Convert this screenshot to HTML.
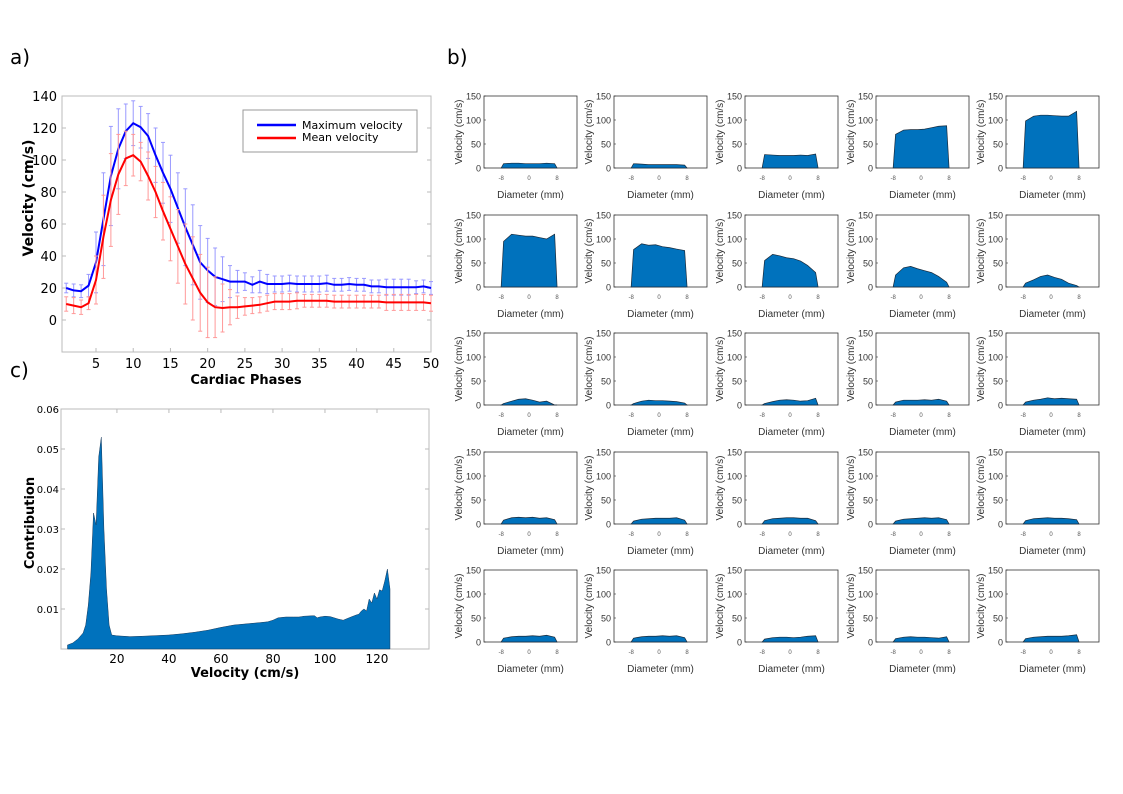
<!DOCTYPE html>
<html><head><meta charset="utf-8"><style>
body{margin:0;background:#fff;}
svg{display:block;}
text{font-family:"DejaVu Sans",sans-serif;}
.b text{font-family:"Liberation Sans",sans-serif;}
</style></head><body>
<svg id="s" width="1123" height="794" xmlns="http://www.w3.org/2000/svg">
<rect width="1123" height="794" fill="#fff"/>
<text x="10" y="64" font-size="20">a)</text>
<text x="447" y="64" font-size="20">b)</text>
<text x="10" y="377" font-size="20">c)</text>
<g id="ga"></g>
<g id="gc"></g>
<g id="gb" class="b"></g>
</svg>
<script>
// ---- Panel a data ----
const phases=[];for(let i=1;i<=50;i++)phases.push(i);
const maxVel=[20,18.5,18,21.5,36,63,90,107,118,123,120.5,115,103,92,82,70,58,47,36,31,27,25.5,24,24,24,22,24,22.5,22.5,22.5,23,22.5,22.5,22.5,22.5,23,22,22,22.5,22,22,21,21,20.5,20.5,20.5,20.5,20.5,21,20];
const maxErr=[3,4,4,7,19,29,31,25,17,14,13,14,17,19,21,22,24,25,23,20,18,14,10,7,5.5,5,7,6,5,5,5,5,5,5,5,5,4,4,4,4,4,4,4,5,5,5,5,4,4,4];
const meanVel=[10,9,8,10.5,25,52,75,91,101,103,99,90,80,68,57,46,35,26,17,11,8,7.5,8,8,8.5,9,9.5,10.5,11.5,11.5,11.5,12,12,12,12,12,11.5,11.5,11.5,11.5,11.5,11.5,11.5,11,11,11,11,11,11,10.5];
const meanErr=[4.5,5,4.5,4,15,26,29,25,17,13,12,15,16,18,20,23,25,26,24,22,19,15,11,7,5.5,5,5,5,5,5,5,5,4,4,4,4,4,4,4,4,4,4,4,5,5,5,5,5,5,5];
const aYTicks=[0,20,40,60,80,100,120,140];
const aXTicks=[5,10,15,20,25,30,35,40,45,50];
// ---- Panel c data ----
const cVel=[1,3,5,7,8,9,10,11,12,13,14,15,16,17,18,20,25,30,40,45,50,55,60,65,70,75,78,80,82,85,88,90,92,95,96,97,98,100,102,105,107,110,112,113,114,115,116,117,118,119,120,121,122,123,124,125];
const cVal=[.001,.0015,.0025,.004,.006,.011,.019,.034,.031,.048,.053,.03,.015,.006,.0035,.0033,.0031,.0032,.0035,.0038,.0042,.0047,.0054,.006,.0063,.0066,.0068,.0072,.0078,.008,.008,.008,.0082,.0083,.0083,.0078,.008,.0082,.0081,.0075,.0072,.008,.0085,.0087,.0095,.01,.0095,.0125,.0115,.014,.0125,.0148,.0145,.017,.02,.015];
const cYTicks=[0.01,0.02,0.03,0.04,0.05,0.06];
const cXTicks=[20,40,60,80,100,120];
// ---- Panel b data ----
const bPos=[-8,-7.3,-5,-3,-1,1,3,5,7.3,8];
const bProfiles=[
[0,9,10,10,9,9,9,10,9,0],[0,9,8,7,7,7,7,7,6,0],[0,28,27,26,26,26,27,26,29,0],[0,70,79,80,80,81,84,87,88,0],[0,98,108,110,110,109,108,108,118,0],
[0,95,110,108,106,106,103,100,110,0],[0,78,90,87,88,84,82,79,76,0],[0,55,68,65,61,59,54,45,30,0],[0,25,40,43,38,34,30,22,10,0],[0,8,15,22,25,20,16,8,3,0],
[0,3,8,12,13,10,6,8,0,0],[0,3,8,10,9,9,8,7,4,0],[0,3,7,10,11,10,8,9,14,0],[0,6,10,10,10,11,10,12,8,0],[0,6,10,12,15,13,14,13,12,0],
[0,8,13,14,13,14,12,13,9,0],[0,6,10,11,12,12,12,13,8,0],[0,7,11,12,13,13,12,12,7,0],[0,6,10,11,12,13,12,13,9,0],[0,7,11,12,13,12,12,11,9,0],
[0,8,11,12,12,13,12,14,10,0],[0,8,11,12,12,13,12,13,9,0],[0,6,9,10,10,9,10,12,13,0],[0,7,10,11,10,10,9,8,11,0],[0,7,10,11,12,12,12,13,15,0]];
const bYTicks=[0,50,100,150];
const bXTicks=[-8,0,8];

const NS="http://www.w3.org/2000/svg";
function el(p,t,a,txt){const e=document.createElementNS(NS,t);for(const k in a)e.setAttribute(k,a[k]);if(txt!==undefined)e.textContent=txt;p.appendChild(e);return e;}

// ---- Panel a ----
(function(){
const g=document.getElementById('ga');
const L=62,R=431,T=96,B=352,x0=0.433,x1=50,y0=-20,y1=140;
const X=v=>L+(v-x0)/(x1-x0)*(R-L), Y=v=>B-(v-y0)/(y1-y0)*(B-T);
let e=el(g,'rect',{x:L,y:T,width:R-L,height:B-T,fill:'#fff',stroke:'#bbb'});

aYTicks.forEach(v=>{el(g,'line',{x1:L,x2:L+4,y1:Y(v),y2:Y(v),stroke:'#bbb'});el(g,'line',{x1:R,x2:R-4,y1:Y(v),y2:Y(v),stroke:'#bbb'});
 e=el(g,'text',{x:L-5,y:Y(v)+5,'font-size':13,'text-anchor':'end'},v);});
aXTicks.forEach(v=>{el(g,'line',{x1:X(v),x2:X(v),y1:B,y2:B-4,stroke:'#bbb'});
 e=el(g,'text',{x:X(v),y:B+16,'font-size':13,'text-anchor':'middle'},v);});
function series(vals,errs,col,ecol,name){
 phases.forEach((p,i)=>{const x=X(p);el(g,'line',{x1:x,x2:x,y1:Y(vals[i]-errs[i]),y2:Y(vals[i]+errs[i]),stroke:ecol,'stroke-width':1});
  [vals[i]-errs[i],vals[i]+errs[i]].forEach(v=>el(g,'line',{x1:x-2,x2:x+2,y1:Y(v),y2:Y(v),stroke:ecol}));});
 const l=el(g,'polyline',{points:phases.map((p,i)=>X(p)+','+Y(vals[i])).join(' '),fill:'none',stroke:col,'stroke-width':2});
 
}
series(maxVel,maxErr,'#0000ff','#9999ff','max-velocity-line');
series(meanVel,meanErr,'#ff0000','#ff9999','mean-velocity-line');
e=el(g,'rect',{x:243,y:110,width:174,height:42,fill:'#fff',stroke:'#999'});
el(g,'line',{x1:257,x2:296,y1:125,y2:125,stroke:'#0000ff','stroke-width':2.5});
e=el(g,'text',{x:302,y:129,'font-size':11},'Maximum velocity');
el(g,'line',{x1:257,x2:296,y1:138,y2:138,stroke:'#ff0000','stroke-width':2.5});
e=el(g,'text',{x:302,y:141,'font-size':11},'Mean velocity');
e=el(g,'text',{x:246,y:384,'font-size':13,'font-weight':'bold','text-anchor':'middle'},'Cardiac Phases');
e=el(g,'text',{x:0,y:0,'font-size':14,'font-weight':'bold','text-anchor':'middle',transform:'translate(33,198) rotate(-90)'},'Velocity (cm/s)');
})();

// ---- Panel c ----
(function(){
const g=document.getElementById('gc');
const L=61,R=429,T=409,B=649,x0=-1.5,x1=140,y0=0,y1=0.06;
const X=v=>L+(v-x0)/(x1-x0)*(R-L), Y=v=>B-(v-y0)/(y1-y0)*(B-T);
let e=el(g,'rect',{x:L,y:T,width:R-L,height:B-T,fill:'#fff',stroke:'#bbb'});
cYTicks.forEach(v=>{el(g,'line',{x1:L,x2:L+4,y1:Y(v),y2:Y(v),stroke:'#bbb'});el(g,'line',{x1:R,x2:R-4,y1:Y(v),y2:Y(v),stroke:'#bbb'});
 e=el(g,'text',{x:L-2,y:Y(v)+4,'font-size':10,'text-anchor':'end','font-family':'Liberation Sans, sans-serif'},String(v));});
cXTicks.forEach(v=>{el(g,'line',{x1:X(v),x2:X(v),y1:B,y2:B-4,stroke:'#bbb'});el(g,'line',{x1:X(v),x2:X(v),y1:T,y2:T+4,stroke:'#bbb'});
 e=el(g,'text',{x:X(v),y:B+14,'font-size':12,'text-anchor':'middle'},v);});
let pts=X(cVel[0])+','+Y(0)+' '+cVel.map((v,i)=>X(v)+','+Y(cVal[i])).join(' ')+' '+X(cVel[cVel.length-1])+','+Y(0);
e=el(g,'polygon',{points:pts,fill:'#0072bd',stroke:'#1a3a5a','stroke-width':0.5});
e=el(g,'text',{x:245,y:677,'font-size':13,'font-weight':'bold','text-anchor':'middle'},'Velocity (cm/s)');
e=el(g,'text',{x:0,y:0,'font-size':13,'font-weight':'bold','text-anchor':'middle',transform:'translate(34,523) rotate(-90)'},'Contribution');
})();

// ---- Panel b ----
(function(){
const g=document.getElementById('gb');
const cols=[484,614,745,876,1006],rows=[96,215,333,452,570],W=93,H=72;
bProfiles.forEach((prof,k)=>{
 const L=cols[k%5],T=rows[Math.floor(k/5)],R=L+W,B=T+H;
 const X=v=>L+(v+12.9)/(26.6)*W, Y=v=>B-v/150*H;
 const sg=el(g,'g',{});
 el(sg,'rect',{x:L,y:T,width:W,height:H,fill:'#fff',stroke:'#333','stroke-width':0.8});
 bYTicks.forEach(v=>{el(sg,'line',{x1:L,x2:L+2,y1:Y(v),y2:Y(v),stroke:'#333','stroke-width':0.6});
  const t=el(sg,'text',{x:L-3,y:Y(v)+3.5,'font-size':9,'text-anchor':'end',fill:'#333'},v);});
 bXTicks.forEach(v=>{const t=el(sg,'text',{x:X(v),y:B+12,'font-size':6,'text-anchor':'middle',fill:'#555'},v);});
 const pts=bPos.map((p,i)=>X(p)+','+Y(prof[i])).join(' ');
 const a=el(sg,'polygon',{points:pts,fill:'#0072bd',stroke:'#1a2a3a','stroke-width':0.7});
 let t=el(sg,'text',{x:L+W/2,y:B+30,'font-size':10,'text-anchor':'middle',fill:'#333'},'Diameter (mm)');
 t=el(sg,'text',{x:0,y:0,'font-size':10,'text-anchor':'middle',fill:'#333',transform:`translate(${L-22},${T+H/2}) rotate(-90)`},'Velocity (cm/s)');
});
})();
</script>
</body></html>
